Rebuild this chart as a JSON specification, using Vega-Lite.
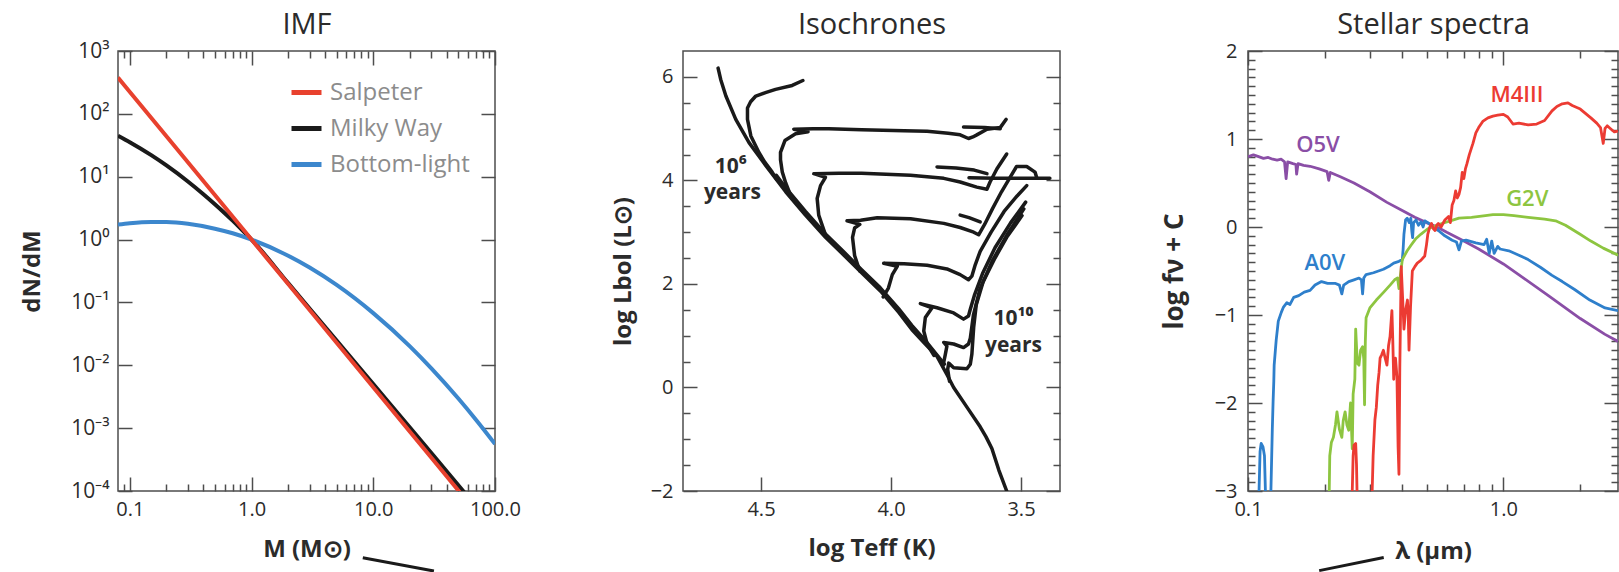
{
"$schema": "https://vega.github.io/schema/vega-lite/v6.json",
"background": "white",
"padding": {"left": 19, "top": 9, "right": 0, "bottom": 0},
"bounds": "flush",
"spacing": 188,
"config": {
 "font": "Open Sans",
 "view": {"stroke": "#4d4d4d", "strokeWidth": 1.5},
 "axis": {"domain": false, "grid": false, "labelFont": "Open Sans", "labelFontSize": 20, "labelColor": "#2b2b2b", "titleFont": "Open Sans", "titleFontSize": 24, "titleFontWeight": "bold", "titleColor": "#2b2b2b", "tickColor": "#4d4d4d", "tickWidth": 1.5, "labelFlush": false, "labelOverlap": false}
},
"datasets": {
 "imf": [
  {"s":"Milky Way","m":0.08,"n":44.8,"i":0},{"s":"Milky Way","m":0.1,"n":35.4,"i":1},{"s":"Milky Way","m":0.15,"n":22.0,"i":2},{"s":"Milky Way","m":0.2,"n":15.1,"i":3},{"s":"Milky Way","m":0.3,"n":8.4,"i":4},{"s":"Milky Way","m":0.4,"n":5.32,"i":5},{"s":"Milky Way","m":0.5,"n":3.65,"i":6},{"s":"Milky Way","m":0.6,"n":2.65,"i":7},{"s":"Milky Way","m":0.7,"n":2.0,"i":8},{"s":"Milky Way","m":0.8,"n":1.55,"i":9},{"s":"Milky Way","m":0.9,"n":1.23,"i":10},{"s":"Milky Way","m":1,"n":1,"i":11},{"s":"Milky Way","m":2,"n":0.203,"i":12},{"s":"Milky Way","m":5,"n":0.0247,"i":13},{"s":"Milky Way","m":10,"n":0.00501,"i":14},{"s":"Milky Way","m":20,"n":0.00102,"i":15},{"s":"Milky Way","m":50,"n":0.000123,"i":16},{"s":"Milky Way","m":70,"n":0.0000567,"i":17},
  {"s":"Bottom-light","m":0.08,"n":1.73,"i":20},{"s":"Bottom-light","m":0.1,"n":1.82,"i":21},{"s":"Bottom-light","m":0.15,"n":1.91,"i":22},{"s":"Bottom-light","m":0.2,"n":1.9,"i":23},{"s":"Bottom-light","m":0.3,"n":1.78,"i":24},{"s":"Bottom-light","m":0.5,"n":1.49,"i":25},{"s":"Bottom-light","m":0.7,"n":1.26,"i":26},{"s":"Bottom-light","m":1,"n":1,"i":27},{"s":"Bottom-light","m":2,"n":0.554,"i":28},{"s":"Bottom-light","m":3,"n":0.359,"i":29},{"s":"Bottom-light","m":5,"n":0.19,"i":30},{"s":"Bottom-light","m":10,"n":0.0676,"i":31},{"s":"Bottom-light","m":20,"n":0.02,"i":32},{"s":"Bottom-light","m":30,"n":0.00893,"i":33},{"s":"Bottom-light","m":50,"n":0.00296,"i":34},{"s":"Bottom-light","m":70,"n":0.00135,"i":35},{"s":"Bottom-light","m":100,"n":0.00056,"i":36},
  {"s":"Salpeter","m":0.08,"n":378,"i":40},{"s":"Salpeter","m":0.2,"n":43.9,"i":41},{"s":"Salpeter","m":0.5,"n":5.1,"i":42},{"s":"Salpeter","m":1,"n":1,"i":43},{"s":"Salpeter","m":2,"n":0.196,"i":44},{"s":"Salpeter","m":5,"n":0.0228,"i":45},{"s":"Salpeter","m":10,"n":0.00447,"i":46},{"s":"Salpeter","m":20,"n":0.000876,"i":47},{"s":"Salpeter","m":50,"n":0.000102,"i":48},{"s":"Salpeter","m":70,"n":0.0000462,"i":49}
 ],
 "imfCallout": [{"m": 8.2, "n": 0.0000087, "m2": 31.5, "n2": 0.00000535}],
 "specCallout": [{"w": 0.34, "f": -3.755, "w2": 0.19, "f2": -3.905}],
 "iso": [
  {"k":"ms","t":3.555,"l":-2.0,"i":0},{"k":"ms","t":3.585,"l":-1.6,"i":1},{"k":"ms","t":3.612,"l":-1.18,"i":2},{"k":"ms","t":3.635,"l":-0.95,"i":3},{"k":"ms","t":3.657,"l":-0.76,"i":4},{"k":"ms","t":3.708,"l":-0.38,"i":5},{"k":"ms","t":3.759,"l":0.0,"i":6},{"k":"ms","t":3.785,"l":0.25,"i":7},{"k":"ms","t":3.823,"l":0.6,"i":8},{"k":"ms","t":3.87,"l":0.85,"i":9},{"k":"ms","t":3.92,"l":1.12,"i":10},{"k":"ms","t":3.97,"l":1.45,"i":11},{"k":"ms","t":4.04,"l":1.86,"i":12},{"k":"ms","t":4.11,"l":2.2,"i":13},{"k":"ms","t":4.18,"l":2.55,"i":14},{"k":"ms","t":4.252,"l":2.9,"i":15},{"k":"ms","t":4.329,"l":3.33,"i":16},{"k":"ms","t":4.405,"l":3.78,"i":17},{"k":"ms","t":4.482,"l":4.29,"i":18},{"k":"ms","t":4.546,"l":4.73,"i":19},{"k":"ms","t":4.597,"l":5.18,"i":20},{"k":"ms","t":4.635,"l":5.63,"i":21},{"k":"ms","t":4.655,"l":5.95,"i":22},{"k":"ms","t":4.665,"l":6.17,"i":23},
  {"k":"ms2","t":3.795,"l":0.45,"i":24},{"k":"ms2","t":3.867,"l":0.9,"i":25},{"k":"ms2","t":3.92,"l":1.2,"i":26},{"k":"ms2","t":3.97,"l":1.52,"i":27},{"k":"ms2","t":4.042,"l":1.93,"i":28},{"k":"ms2","t":4.114,"l":2.28,"i":29},{"k":"ms2","t":4.182,"l":2.62,"i":30},{"k":"ms2","t":4.253,"l":2.97,"i":31},{"k":"ms2","t":4.329,"l":3.4,"i":32},{"k":"ms2","t":4.399,"l":3.82,"i":33},{"k":"ms2","t":4.441,"l":4.1,"i":34},
  {"k":"B","t":4.44,"l":4.02,"i":35},{"k":"B","t":4.457,"l":4.16,"i":36},{"k":"B","t":4.485,"l":4.35,"i":37},{"k":"B","t":4.508,"l":4.54,"i":38},{"k":"B","t":4.539,"l":4.86,"i":39},{"k":"B","t":4.552,"l":5.18,"i":40},{"k":"B","t":4.552,"l":5.4,"i":41},{"k":"B","t":4.54,"l":5.52,"i":42},{"k":"B","t":4.52,"l":5.63,"i":43},{"k":"B","t":4.48,"l":5.7,"i":44},{"k":"B","t":4.444,"l":5.758,"i":45},{"k":"B","t":4.38,"l":5.835,"i":46},{"k":"B","t":4.339,"l":5.93,"i":47},
  {"k":"C","t":4.33,"l":3.36,"i":48},{"k":"C","t":4.36,"l":3.55,"i":49},{"k":"C","t":4.386,"l":3.71,"i":50},{"k":"C","t":4.405,"l":3.95,"i":51},{"k":"C","t":4.418,"l":4.16,"i":52},{"k":"C","t":4.425,"l":4.4,"i":53},{"k":"C","t":4.425,"l":4.54,"i":54},{"k":"C","t":4.408,"l":4.77,"i":55},{"k":"C","t":4.367,"l":4.9,"i":56},{"k":"C","t":4.319,"l":4.94,"i":57},{"k":"C","t":4.374,"l":4.99,"i":58},{"k":"C","t":4.3,"l":5.0,"i":59},{"k":"C","t":4.239,"l":5.0,"i":60},{"k":"C","t":4.113,"l":4.98,"i":61},{"k":"C","t":3.95,"l":4.96,"i":62},{"k":"C","t":3.861,"l":4.95,"i":63},{"k":"C","t":3.78,"l":4.91,"i":64},{"k":"C","t":3.734,"l":4.88,"i":65},{"k":"C","t":3.702,"l":4.81,"i":66},{"k":"C","t":3.685,"l":4.84,"i":67},{"k":"C","t":3.67,"l":4.88,"i":68},{"k":"C","t":3.631,"l":4.99,"i":69},{"k":"C","t":3.58,"l":5.02,"i":70},{"k":"C","t":3.557,"l":5.18,"i":71},
  {"k":"C2","t":3.721,"l":5.03,"i":72},{"k":"C2","t":3.64,"l":5.02,"i":73},{"k":"C2","t":3.58,"l":5.0,"i":74},
  {"k":"D","t":4.252,"l":2.95,"i":75},{"k":"D","t":4.278,"l":3.33,"i":76},{"k":"D","t":4.284,"l":3.65,"i":77},{"k":"D","t":4.271,"l":3.9,"i":78},{"k":"D","t":4.252,"l":4.06,"i":79},{"k":"D","t":4.297,"l":4.13,"i":80},{"k":"D","t":4.2,"l":4.14,"i":81},{"k":"D","t":4.113,"l":4.14,"i":82},{"k":"D","t":3.925,"l":4.1,"i":83},{"k":"D","t":3.797,"l":4.04,"i":84},{"k":"D","t":3.734,"l":3.97,"i":85},{"k":"D","t":3.67,"l":3.87,"i":86},{"k":"D","t":3.631,"l":3.83,"i":87},{"k":"D","t":3.619,"l":3.97,"i":88},{"k":"D","t":3.593,"l":4.22,"i":89},{"k":"D","t":3.555,"l":4.51,"i":90},
  {"k":"D2","t":3.823,"l":4.26,"i":91},{"k":"D2","t":3.75,"l":4.24,"i":92},{"k":"D2","t":3.68,"l":4.2,"i":93},{"k":"D2","t":3.631,"l":4.13,"i":94},
  {"k":"D3","t":3.7,"l":4.05,"i":95},{"k":"D3","t":3.6,"l":4.04,"i":96},{"k":"D3","t":3.5,"l":4.04,"i":97},{"k":"D3","t":3.389,"l":4.04,"i":98},
  {"k":"E","t":4.12,"l":2.25,"i":99},{"k":"E","t":4.14,"l":2.55,"i":100},{"k":"E","t":4.148,"l":2.9,"i":101},{"k":"E","t":4.14,"l":3.08,"i":102},{"k":"E","t":4.12,"l":3.15,"i":103},{"k":"E","t":4.169,"l":3.22,"i":104},{"k":"E","t":4.117,"l":3.23,"i":105},{"k":"E","t":4.053,"l":3.28,"i":106},{"k":"E","t":3.925,"l":3.26,"i":107},{"k":"E","t":3.797,"l":3.17,"i":108},{"k":"E","t":3.734,"l":3.09,"i":109},{"k":"E","t":3.682,"l":3.0,"i":110},{"k":"E","t":3.663,"l":2.95,"i":111},{"k":"E","t":3.64,"l":3.15,"i":112},{"k":"E","t":3.61,"l":3.45,"i":113},{"k":"E","t":3.575,"l":3.78,"i":114},{"k":"E","t":3.542,"l":4.06,"i":115},{"k":"E","t":3.517,"l":4.27,"i":116},{"k":"E","t":3.478,"l":4.27,"i":117},{"k":"E","t":3.446,"l":4.16,"i":118},{"k":"E","t":3.44,"l":4.06,"i":119},
  {"k":"E2","t":3.734,"l":3.33,"i":120},{"k":"E2","t":3.7,"l":3.28,"i":121},{"k":"E2","t":3.657,"l":3.2,"i":122},
  {"k":"F","t":4.03,"l":1.75,"i":123},{"k":"F","t":4.01,"l":1.92,"i":124},{"k":"F","t":3.995,"l":2.18,"i":125},{"k":"F","t":3.976,"l":2.34,"i":126},{"k":"F","t":4.028,"l":2.4,"i":127},{"k":"F","t":3.95,"l":2.39,"i":128},{"k":"F","t":3.861,"l":2.36,"i":129},{"k":"F","t":3.785,"l":2.29,"i":130},{"k":"F","t":3.734,"l":2.18,"i":131},{"k":"F","t":3.702,"l":2.08,"i":132},{"k":"F","t":3.689,"l":2.15,"i":133},{"k":"F","t":3.676,"l":2.37,"i":134},{"k":"F","t":3.657,"l":2.63,"i":135},{"k":"F","t":3.615,"l":3.0,"i":136},{"k":"F","t":3.565,"l":3.4,"i":137},{"k":"F","t":3.515,"l":3.7,"i":138},{"k":"F","t":3.478,"l":3.9,"i":139},
  {"k":"G","t":3.835,"l":0.62,"i":140},{"k":"G","t":3.861,"l":0.84,"i":141},{"k":"G","t":3.874,"l":1.09,"i":142},{"k":"G","t":3.868,"l":1.35,"i":143},{"k":"G","t":3.842,"l":1.54,"i":144},{"k":"G","t":3.887,"l":1.62,"i":145},{"k":"G","t":3.823,"l":1.54,"i":146},{"k":"G","t":3.759,"l":1.44,"i":147},{"k":"G","t":3.721,"l":1.32,"i":148},{"k":"G","t":3.702,"l":1.38,"i":149},{"k":"G","t":3.695,"l":1.51,"i":150},{"k":"G","t":3.678,"l":1.8,"i":151},{"k":"G","t":3.648,"l":2.2,"i":152},{"k":"G","t":3.6,"l":2.7,"i":153},{"k":"G","t":3.54,"l":3.18,"i":154},{"k":"G","t":3.482,"l":3.58,"i":155},
  {"k":"H1","t":3.8,"l":0.42,"i":156},{"k":"H1","t":3.791,"l":0.64,"i":157},{"k":"H1","t":3.785,"l":0.8,"i":158},{"k":"H1","t":3.797,"l":0.87,"i":159},{"k":"H1","t":3.759,"l":0.84,"i":160},{"k":"H1","t":3.721,"l":0.77,"i":161},{"k":"H1","t":3.702,"l":0.84,"i":162},{"k":"H1","t":3.695,"l":0.95,"i":163},{"k":"H1","t":3.683,"l":1.4,"i":164},{"k":"H1","t":3.658,"l":1.9,"i":165},{"k":"H1","t":3.61,"l":2.45,"i":166},{"k":"H1","t":3.55,"l":2.98,"i":167},{"k":"H1","t":3.489,"l":3.45,"i":168},
  {"k":"H2","t":3.775,"l":0.12,"i":169},{"k":"H2","t":3.782,"l":0.35,"i":170},{"k":"H2","t":3.778,"l":0.47,"i":171},{"k":"H2","t":3.759,"l":0.38,"i":172},{"k":"H2","t":3.708,"l":0.36,"i":173},{"k":"H2","t":3.695,"l":0.45,"i":174},{"k":"H2","t":3.689,"l":0.64,"i":175},{"k":"H2","t":3.682,"l":1.16,"i":176},{"k":"H2","t":3.672,"l":1.6,"i":177},{"k":"H2","t":3.645,"l":2.05,"i":178},{"k":"H2","t":3.6,"l":2.5,"i":179},{"k":"H2","t":3.555,"l":2.9,"i":180},{"k":"H2","t":3.52,"l":3.15,"i":181},{"k":"H2","t":3.496,"l":3.32,"i":182}
 ],
 "isoLab": [
  {"t":4.616,"l":4.26,"txt":"10⁶"},{"t":4.61,"l":3.75,"txt":"years"},{"t":3.529,"l":1.32,"txt":"10¹⁰"},{"t":3.529,"l":0.8,"txt":"years"}
 ],
 "spec": [
  {"k":"O5V","w":0.1,"f":0.8,"i":0},{"k":"O5V","w":0.105,"f":0.82,"i":1},{"k":"O5V","w":0.11,"f":0.8,"i":2},{"k":"O5V","w":0.115,"f":0.78,"i":3},{"k":"O5V","w":0.12,"f":0.79,"i":4},{"k":"O5V","w":0.125,"f":0.77,"i":5},{"k":"O5V","w":0.13,"f":0.76,"i":6},{"k":"O5V","w":0.135,"f":0.77,"i":7},{"k":"O5V","w":0.139,"f":0.74,"i":8},{"k":"O5V","w":0.141,"f":0.55,"i":9},{"k":"O5V","w":0.143,"f":0.74,"i":10},{"k":"O5V","w":0.15,"f":0.72,"i":11},{"k":"O5V","w":0.154,"f":0.71,"i":12},{"k":"O5V","w":0.155,"f":0.6,"i":13},{"k":"O5V","w":0.157,"f":0.72,"i":14},{"k":"O5V","w":0.165,"f":0.7,"i":15},{"k":"O5V","w":0.175,"f":0.69,"i":16},{"k":"O5V","w":0.19,"f":0.66,"i":17},{"k":"O5V","w":0.204,"f":0.63,"i":18},{"k":"O5V","w":0.207,"f":0.53,"i":19},{"k":"O5V","w":0.21,"f":0.62,"i":20},{"k":"O5V","w":0.23,"f":0.57,"i":21},{"k":"O5V","w":0.26,"f":0.5,"i":22},{"k":"O5V","w":0.3,"f":0.4,"i":23},{"k":"O5V","w":0.35,"f":0.28,"i":24},{"k":"O5V","w":0.4,"f":0.19,"i":25},{"k":"O5V","w":0.45,"f":0.11,"i":26},{"k":"O5V","w":0.5,"f":0.05,"i":27},{"k":"O5V","w":0.55,"f":0.0,"i":28},{"k":"O5V","w":0.6,"f":-0.06,"i":29},{"k":"O5V","w":0.7,"f":-0.16,"i":30},{"k":"O5V","w":0.8,"f":-0.25,"i":31},{"k":"O5V","w":1.0,"f":-0.42,"i":32},{"k":"O5V","w":1.2,"f":-0.58,"i":33},{"k":"O5V","w":1.5,"f":-0.78,"i":34},{"k":"O5V","w":2.0,"f":-1.04,"i":35},{"k":"O5V","w":2.5,"f":-1.22,"i":36},{"k":"O5V","w":2.81,"f":-1.3,"i":37},
  {"k":"A0V","w":0.11,"f":-3.2,"i":100},{"k":"A0V","w":0.1115,"f":-2.55,"i":101},{"k":"A0V","w":0.1126,"f":-2.46,"i":102},{"k":"A0V","w":0.1145,"f":-2.5,"i":103},{"k":"A0V","w":0.116,"f":-2.6,"i":104},{"k":"A0V","w":0.1175,"f":-3.2,"i":105},{"k":"A0V","w":0.1225,"f":-3.2,"i":106},{"k":"A0V","w":0.1245,"f":-2.3,"i":107},{"k":"A0V","w":0.1254,"f":-1.98,"i":108},{"k":"A0V","w":0.1262,"f":-1.75,"i":109},{"k":"A0V","w":0.1266,"f":-1.57,"i":110},{"k":"A0V","w":0.128,"f":-1.4,"i":111},{"k":"A0V","w":0.129,"f":-1.28,"i":112},{"k":"A0V","w":0.1305,"f":-1.15,"i":113},{"k":"A0V","w":0.1314,"f":-1.07,"i":114},{"k":"A0V","w":0.135,"f":-0.97,"i":115},{"k":"A0V","w":0.1377,"f":-0.91,"i":116},{"k":"A0V","w":0.142,"f":-0.86,"i":117},{"k":"A0V","w":0.146,"f":-0.88,"i":118},{"k":"A0V","w":0.151,"f":-0.8,"i":119},{"k":"A0V","w":0.158,"f":-0.78,"i":120},{"k":"A0V","w":0.166,"f":-0.74,"i":121},{"k":"A0V","w":0.175,"f":-0.72,"i":122},{"k":"A0V","w":0.183,"f":-0.66,"i":123},{"k":"A0V","w":0.194,"f":-0.62,"i":124},{"k":"A0V","w":0.205,"f":-0.64,"i":125},{"k":"A0V","w":0.219,"f":-0.64,"i":126},{"k":"A0V","w":0.228,"f":-0.66,"i":127},{"k":"A0V","w":0.233,"f":-0.76,"i":128},{"k":"A0V","w":0.237,"f":-0.66,"i":129},{"k":"A0V","w":0.248,"f":-0.62,"i":130},{"k":"A0V","w":0.26,"f":-0.6,"i":131},{"k":"A0V","w":0.272,"f":-0.58,"i":132},{"k":"A0V","w":0.278,"f":-0.6,"i":133},{"k":"A0V","w":0.281,"f":-0.76,"i":134},{"k":"A0V","w":0.284,"f":-0.58,"i":135},{"k":"A0V","w":0.29,"f":-0.54,"i":136},{"k":"A0V","w":0.31,"f":-0.52,"i":137},{"k":"A0V","w":0.339,"f":-0.48,"i":138},{"k":"A0V","w":0.36,"f":-0.44,"i":139},{"k":"A0V","w":0.372,"f":-0.41,"i":140},{"k":"A0V","w":0.39,"f":-0.39,"i":141},{"k":"A0V","w":0.402,"f":-0.37,"i":142},{"k":"A0V","w":0.405,"f":-0.25,"i":143},{"k":"A0V","w":0.408,"f":-0.08,"i":144},{"k":"A0V","w":0.414,"f":0.08,"i":145},{"k":"A0V","w":0.42,"f":0.1,"i":146},{"k":"A0V","w":0.428,"f":0.05,"i":147},{"k":"A0V","w":0.434,"f":0.1,"i":148},{"k":"A0V","w":0.438,"f":-0.05,"i":149},{"k":"A0V","w":0.441,"f":-0.12,"i":150},{"k":"A0V","w":0.445,"f":0.05,"i":151},{"k":"A0V","w":0.455,"f":0.08,"i":152},{"k":"A0V","w":0.465,"f":0.02,"i":153},{"k":"A0V","w":0.476,"f":0.06,"i":154},{"k":"A0V","w":0.485,"f":0.0,"i":155},{"k":"A0V","w":0.492,"f":0.07,"i":156},{"k":"A0V","w":0.506,"f":0.05,"i":157},{"k":"A0V","w":0.53,"f":0.0,"i":158},{"k":"A0V","w":0.556,"f":-0.04,"i":159},{"k":"A0V","w":0.59,"f":-0.1,"i":160},{"k":"A0V","w":0.63,"f":-0.15,"i":161},{"k":"A0V","w":0.655,"f":-0.17,"i":162},{"k":"A0V","w":0.67,"f":-0.26,"i":163},{"k":"A0V","w":0.685,"f":-0.16,"i":164},{"k":"A0V","w":0.714,"f":-0.15,"i":165},{"k":"A0V","w":0.78,"f":-0.18,"i":166},{"k":"A0V","w":0.84,"f":-0.2,"i":167},{"k":"A0V","w":0.86,"f":-0.14,"i":168},{"k":"A0V","w":0.88,"f":-0.3,"i":169},{"k":"A0V","w":0.9,"f":-0.16,"i":170},{"k":"A0V","w":0.92,"f":-0.3,"i":171},{"k":"A0V","w":0.95,"f":-0.22,"i":172},{"k":"A0V","w":0.97,"f":-0.25,"i":173},{"k":"A0V","w":1.05,"f":-0.27,"i":174},{"k":"A0V","w":1.15,"f":-0.32,"i":175},{"k":"A0V","w":1.25,"f":-0.37,"i":176},{"k":"A0V","w":1.4,"f":-0.46,"i":177},{"k":"A0V","w":1.55,"f":-0.55,"i":178},{"k":"A0V","w":1.7,"f":-0.62,"i":179},{"k":"A0V","w":1.9,"f":-0.71,"i":180},{"k":"A0V","w":2.18,"f":-0.83,"i":181},{"k":"A0V","w":2.5,"f":-0.92,"i":182},{"k":"A0V","w":2.81,"f":-0.95,"i":183},
  {"k":"G2V","w":0.2075,"f":-3.2,"i":200},{"k":"G2V","w":0.209,"f":-2.6,"i":201},{"k":"G2V","w":0.212,"f":-2.45,"i":202},{"k":"G2V","w":0.216,"f":-2.39,"i":203},{"k":"G2V","w":0.22,"f":-2.25,"i":204},{"k":"G2V","w":0.223,"f":-2.1,"i":205},{"k":"G2V","w":0.228,"f":-2.3,"i":206},{"k":"G2V","w":0.233,"f":-2.39,"i":207},{"k":"G2V","w":0.236,"f":-2.2,"i":208},{"k":"G2V","w":0.24,"f":-2.1,"i":209},{"k":"G2V","w":0.244,"f":-2.25,"i":210},{"k":"G2V","w":0.248,"f":-2.31,"i":211},{"k":"G2V","w":0.252,"f":-2.0,"i":212},{"k":"G2V","w":0.256,"f":-2.52,"i":213},{"k":"G2V","w":0.258,"f":-1.9,"i":214},{"k":"G2V","w":0.262,"f":-1.73,"i":215},{"k":"G2V","w":0.264,"f":-1.16,"i":216},{"k":"G2V","w":0.268,"f":-1.55,"i":217},{"k":"G2V","w":0.272,"f":-1.57,"i":218},{"k":"G2V","w":0.276,"f":-1.4,"i":219},{"k":"G2V","w":0.281,"f":-1.36,"i":220},{"k":"G2V","w":0.284,"f":-1.5,"i":221},{"k":"G2V","w":0.286,"f":-2.02,"i":222},{"k":"G2V","w":0.288,"f":-1.3,"i":223},{"k":"G2V","w":0.29,"f":-1.03,"i":224},{"k":"G2V","w":0.3,"f":-0.92,"i":225},{"k":"G2V","w":0.318,"f":-0.83,"i":226},{"k":"G2V","w":0.34,"f":-0.74,"i":227},{"k":"G2V","w":0.36,"f":-0.66,"i":228},{"k":"G2V","w":0.375,"f":-0.6,"i":229},{"k":"G2V","w":0.385,"f":-0.58,"i":230},{"k":"G2V","w":0.39,"f":-0.7,"i":231},{"k":"G2V","w":0.395,"f":-0.55,"i":232},{"k":"G2V","w":0.402,"f":-0.37,"i":233},{"k":"G2V","w":0.42,"f":-0.27,"i":234},{"k":"G2V","w":0.434,"f":-0.21,"i":235},{"k":"G2V","w":0.455,"f":-0.13,"i":236},{"k":"G2V","w":0.476,"f":-0.08,"i":237},{"k":"G2V","w":0.506,"f":-0.02,"i":238},{"k":"G2V","w":0.54,"f":0.01,"i":239},{"k":"G2V","w":0.574,"f":0.04,"i":240},{"k":"G2V","w":0.62,"f":0.07,"i":241},{"k":"G2V","w":0.67,"f":0.1,"i":242},{"k":"G2V","w":0.75,"f":0.11,"i":243},{"k":"G2V","w":0.85,"f":0.13,"i":244},{"k":"G2V","w":0.91,"f":0.14,"i":245},{"k":"G2V","w":1.0,"f":0.14,"i":246},{"k":"G2V","w":1.1,"f":0.13,"i":247},{"k":"G2V","w":1.25,"f":0.11,"i":248},{"k":"G2V","w":1.45,"f":0.09,"i":249},{"k":"G2V","w":1.6,"f":0.07,"i":250},{"k":"G2V","w":1.75,"f":0.02,"i":251},{"k":"G2V","w":1.99,"f":-0.08,"i":252},{"k":"G2V","w":2.2,"f":-0.16,"i":253},{"k":"G2V","w":2.46,"f":-0.24,"i":254},{"k":"G2V","w":2.81,"f":-0.32,"i":255},
  {"k":"M4III","w":0.255,"f":-3.2,"i":300},{"k":"M4III","w":0.258,"f":-2.6,"i":301},{"k":"M4III","w":0.26,"f":-2.48,"i":302},{"k":"M4III","w":0.264,"f":-2.46,"i":303},{"k":"M4III","w":0.266,"f":-2.7,"i":304},{"k":"M4III","w":0.268,"f":-3.2,"i":305},{"k":"M4III","w":0.305,"f":-3.2,"i":306},{"k":"M4III","w":0.309,"f":-2.6,"i":307},{"k":"M4III","w":0.314,"f":-2.19,"i":308},{"k":"M4III","w":0.318,"f":-2.05,"i":309},{"k":"M4III","w":0.322,"f":-1.8,"i":310},{"k":"M4III","w":0.326,"f":-1.65,"i":311},{"k":"M4III","w":0.329,"f":-1.49,"i":312},{"k":"M4III","w":0.334,"f":-1.45,"i":313},{"k":"M4III","w":0.339,"f":-1.4,"i":314},{"k":"M4III","w":0.345,"f":-1.5,"i":315},{"k":"M4III","w":0.35,"f":-1.57,"i":316},{"k":"M4III","w":0.355,"f":-1.35,"i":317},{"k":"M4III","w":0.36,"f":-1.24,"i":318},{"k":"M4III","w":0.366,"f":-0.95,"i":319},{"k":"M4III","w":0.369,"f":-1.3,"i":320},{"k":"M4III","w":0.372,"f":-1.73,"i":321},{"k":"M4III","w":0.375,"f":-1.55,"i":322},{"k":"M4III","w":0.378,"f":-1.49,"i":323},{"k":"M4III","w":0.383,"f":-1.7,"i":324},{"k":"M4III","w":0.387,"f":-2.5,"i":325},{"k":"M4III","w":0.39,"f":-2.81,"i":326},{"k":"M4III","w":0.393,"f":-1.6,"i":327},{"k":"M4III","w":0.398,"f":-0.45,"i":328},{"k":"M4III","w":0.403,"f":-0.8,"i":329},{"k":"M4III","w":0.408,"f":-1.16,"i":330},{"k":"M4III","w":0.414,"f":-0.95,"i":331},{"k":"M4III","w":0.421,"f":-0.83,"i":332},{"k":"M4III","w":0.424,"f":-1.0,"i":333},{"k":"M4III","w":0.427,"f":-1.4,"i":334},{"k":"M4III","w":0.433,"f":-0.9,"i":335},{"k":"M4III","w":0.44,"f":-0.5,"i":336},{"k":"M4III","w":0.45,"f":-0.45,"i":337},{"k":"M4III","w":0.46,"f":-0.41,"i":338},{"k":"M4III","w":0.475,"f":-0.38,"i":339},{"k":"M4III","w":0.492,"f":-0.33,"i":340},{"k":"M4III","w":0.5,"f":-0.2,"i":341},{"k":"M4III","w":0.506,"f":-0.08,"i":342},{"k":"M4III","w":0.515,"f":0.0,"i":343},{"k":"M4III","w":0.523,"f":0.04,"i":344},{"k":"M4III","w":0.532,"f":-0.02,"i":345},{"k":"M4III","w":0.54,"f":-0.04,"i":346},{"k":"M4III","w":0.548,"f":0.02,"i":347},{"k":"M4III","w":0.556,"f":0.04,"i":348},{"k":"M4III","w":0.57,"f":0.0,"i":349},{"k":"M4III","w":0.59,"f":0.08,"i":350},{"k":"M4III","w":0.61,"f":0.12,"i":351},{"k":"M4III","w":0.62,"f":0.05,"i":352},{"k":"M4III","w":0.63,"f":0.25,"i":353},{"k":"M4III","w":0.64,"f":0.3,"i":354},{"k":"M4III","w":0.65,"f":0.41,"i":355},{"k":"M4III","w":0.66,"f":0.33,"i":356},{"k":"M4III","w":0.67,"f":0.37,"i":357},{"k":"M4III","w":0.68,"f":0.45,"i":358},{"k":"M4III","w":0.69,"f":0.62,"i":359},{"k":"M4III","w":0.7,"f":0.55,"i":360},{"k":"M4III","w":0.71,"f":0.66,"i":361},{"k":"M4III","w":0.72,"f":0.72,"i":362},{"k":"M4III","w":0.735,"f":0.82,"i":363},{"k":"M4III","w":0.75,"f":0.9,"i":364},{"k":"M4III","w":0.76,"f":0.95,"i":365},{"k":"M4III","w":0.78,"f":1.07,"i":366},{"k":"M4III","w":0.8,"f":1.13,"i":367},{"k":"M4III","w":0.83,"f":1.2,"i":368},{"k":"M4III","w":0.87,"f":1.24,"i":369},{"k":"M4III","w":0.91,"f":1.26,"i":370},{"k":"M4III","w":0.95,"f":1.27,"i":371},{"k":"M4III","w":1.0,"f":1.28,"i":372},{"k":"M4III","w":1.04,"f":1.25,"i":373},{"k":"M4III","w":1.09,"f":1.17,"i":374},{"k":"M4III","w":1.15,"f":1.18,"i":375},{"k":"M4III","w":1.25,"f":1.16,"i":376},{"k":"M4III","w":1.35,"f":1.17,"i":377},{"k":"M4III","w":1.45,"f":1.21,"i":378},{"k":"M4III","w":1.55,"f":1.32,"i":379},{"k":"M4III","w":1.62,"f":1.37,"i":380},{"k":"M4III","w":1.7,"f":1.4,"i":381},{"k":"M4III","w":1.79,"f":1.41,"i":382},{"k":"M4III","w":1.86,"f":1.38,"i":383},{"k":"M4III","w":2.0,"f":1.34,"i":384},{"k":"M4III","w":2.2,"f":1.24,"i":385},{"k":"M4III","w":2.32,"f":1.18,"i":386},{"k":"M4III","w":2.4,"f":1.13,"i":387},{"k":"M4III","w":2.46,"f":0.95,"i":388},{"k":"M4III","w":2.5,"f":1.12,"i":389},{"k":"M4III","w":2.55,"f":1.15,"i":390},{"k":"M4III","w":2.62,"f":1.12,"i":391},{"k":"M4III","w":2.72,"f":1.08,"i":392},{"k":"M4III","w":2.81,"f":1.09,"i":393}
 ],
 "specLab": [
  {"k":"O5V","w":0.188,"f":0.93},{"k":"A0V","w":0.2,"f":-0.41},{"k":"G2V","w":1.24,"f":0.32},{"k":"M4III","w":1.13,"f":1.5}
 ]
},
"resolve": {"scale": {"color": "independent"}},
"hconcat": [
 {
  "width": 377, "height": 440,
  "resolve": {"axis": {"x": "independent", "y": "independent"}},
  "layer": [
   {
    "data": {"name": "imf"},
    "mark": {"type": "line", "strokeWidth": 4, "clip": true, "interpolate": "monotone"},
    "encoding": {
     "x": {"field": "m", "type": "quantitative", "scale": {"type": "log", "domain": [0.08, 100], "nice": false},
      "axis": {"orient": "bottom", "values": [0.1, 1, 10, 100], "ticks": false, "labelPadding": 8, "labelExpr": "datum.value < 0.5 ? '0.1' : datum.value < 5 ? '1.0' : datum.value < 50 ? '10.0' : '100.0'", "title": "M (M⊙)", "titleY": 58, "titleBaseline": "middle"}},
     "y": {"field": "n", "type": "quantitative", "scale": {"type": "log", "domain": [0.0001, 1000], "nice": false},
      "axis": {"orient": "left", "values": [0.0001, 0.001, 0.01, 0.1, 1, 10, 100, 1000], "ticks": false, "labelPadding": 9, "labelFontSize": 21, "labelExpr": "datum.value > 500 ? '10³' : datum.value > 50 ? '10²' : datum.value > 5 ? '10¹' : datum.value > 0.5 ? '10⁰' : datum.value > 0.05 ? '10⁻¹' : datum.value > 0.005 ? '10⁻²' : datum.value > 0.0005 ? '10⁻³' : '10⁻⁴'", "title": "dN/dM", "titleX": -86, "titleBaseline": "middle"}},
     "color": {"field": "s", "type": "nominal", "scale": {"domain": ["Salpeter", "Milky Way", "Bottom-light"], "range": ["#e8412e", "#1a1a1a", "#3c87cd"]},
      "legend": {"orient": "none", "legendX": 171, "legendY": 24, "title": null, "symbolType": "stroke", "symbolStrokeWidth": 5, "symbolSize": 900, "labelFontSize": 24, "labelFont": "Open Sans", "labelColor": "#8c8c8c", "labelOffset": 6, "rowPadding": 6, "padding": 0}},
     "order": {"field": "i", "type": "quantitative"}
    }
   },
   {
    "data": {"name": "imfCallout"},
    "mark": {"type": "rule", "strokeWidth": 3, "color": "#1a1a1a"},
    "encoding": {
     "x": {"field": "m", "type": "quantitative", "axis": null},
     "x2": {"field": "m2"},
     "y": {"field": "n", "type": "quantitative", "axis": null},
     "y2": {"field": "n2"}
    }
   },
   {
    "data": {"values": []},
    "mark": {"type": "point", "opacity": 0},
    "encoding": {
     "x": {"field": "m", "type": "quantitative", "axis": {"orient": "bottom", "values": [0.1, 1, 10, 100], "labels": false, "tickSize": 14, "offset": -14, "title": null}},
     "y": {"field": "n", "type": "quantitative", "axis": {"orient": "left", "values": [0.0001, 0.001, 0.01, 0.1, 1, 10, 100, 1000], "labels": false, "tickSize": 14, "offset": -14, "title": null}}
    }
   },
   {
    "data": {"values": []},
    "mark": {"type": "point", "opacity": 0},
    "encoding": {
     "x": {"field": "m", "type": "quantitative", "axis": {"orient": "bottom", "values": [0.09, 0.2, 0.3, 0.4, 0.5, 0.6, 0.7, 0.8, 0.9, 2, 3, 4, 5, 6, 7, 8, 9, 20, 30, 40, 50, 60, 70, 80, 90], "labels": false, "tickSize": 7, "offset": -7, "title": null}},
     "y": {"field": "n", "type": "quantitative", "axis": {"orient": "right", "values": [0.0001, 0.001, 0.01, 0.1, 1, 10, 100, 1000], "labels": false, "tickSize": 14, "offset": -14, "title": null}}
    }
   },
   {
    "data": {"values": []},
    "mark": {"type": "point", "opacity": 0},
    "encoding": {
     "x": {"field": "m", "type": "quantitative", "axis": {"orient": "top", "values": [0.1, 1, 10, 100], "labels": false, "tickSize": 14, "offset": -14, "title": "IMF", "titleY": -32, "titleBaseline": "alphabetic", "titleFontSize": 29, "titleFontWeight": "normal"}},
     "y": {"field": "n", "type": "quantitative", "axis": null}
    }
   },
   {
    "data": {"values": []},
    "mark": {"type": "point", "opacity": 0},
    "encoding": {
     "x": {"field": "m", "type": "quantitative", "axis": {"orient": "top", "values": [0.09, 0.2, 0.3, 0.4, 0.5, 0.6, 0.7, 0.8, 0.9, 2, 3, 4, 5, 6, 7, 8, 9, 20, 30, 40, 50, 60, 70, 80, 90], "labels": false, "tickSize": 7, "offset": -7, "title": null}},
     "y": {"field": "n", "type": "quantitative", "axis": null}
    }
   }
  ]
 },
 {
  "width": 377, "height": 440,
  "resolve": {"axis": {"x": "independent", "y": "independent"}},
  "layer": [
   {
    "data": {"name": "iso"},
    "mark": {"type": "line", "strokeWidth": 3.5, "color": "#1a1a1a", "clip": true, "strokeJoin": "round", "strokeCap": "round"},
    "encoding": {
     "x": {"field": "t", "type": "quantitative", "scale": {"domain": [3.35, 4.8], "reverse": true, "nice": false, "zero": false},
      "axis": {"orient": "bottom", "values": [4.5, 4.0, 3.5], "format": ".1f", "ticks": false, "labelPadding": 8, "title": "log Teff (K)", "titleY": 57, "titleBaseline": "middle"}},
     "y": {"field": "l", "type": "quantitative", "scale": {"domain": [-2, 6.5], "nice": false, "zero": false},
      "axis": {"orient": "left", "values": [-2, 0, 2, 4, 6], "format": "d", "ticks": false, "labelPadding": 10, "title": "log Lbol (L⊙)", "titleX": -60, "titleBaseline": "middle"}},
     "detail": {"field": "k", "type": "nominal"},
     "order": {"field": "i", "type": "quantitative"}
    }
   },
   {
    "data": {"name": "isoLab"},
    "mark": {"type": "text", "fontSize": 21, "fontWeight": "bold", "color": "#2b2b2b", "font": "Open Sans", "align": "center", "baseline": "middle"},
    "encoding": {
     "x": {"field": "t", "type": "quantitative", "axis": {"orient": "top", "ticks": false, "labels": false, "title": "Isochrones", "titleY": -18, "titleBaseline": "alphabetic", "titleFontSize": 29, "titleFontWeight": "normal"}},
     "y": {"field": "l", "type": "quantitative", "axis": null},
     "text": {"field": "txt"}
    }
   },
   {
    "data": {"values": []},
    "mark": {"type": "point", "opacity": 0},
    "encoding": {
     "x": {"field": "t", "type": "quantitative", "axis": {"orient": "bottom", "values": [4.5, 4.0, 3.5], "labels": false, "tickSize": 14, "offset": -14, "title": null}},
     "y": {"field": "l", "type": "quantitative", "axis": {"orient": "left", "values": [-2, 0, 2, 4, 6], "labels": false, "tickSize": 14, "offset": -14, "title": null}}
    }
   },
   {
    "data": {"values": []},
    "mark": {"type": "point", "opacity": 0},
    "encoding": {
     "x": {"field": "t", "type": "quantitative", "axis": null},
     "y": {"field": "l", "type": "quantitative", "axis": {"orient": "left", "values": [-1.5, -1, -0.5, 0.5, 1, 1.5, 2.5, 3, 3.5, 4.5, 5, 5.5], "labels": false, "tickSize": 7, "offset": -7, "title": null}}
    }
   },
   {
    "data": {"values": []},
    "mark": {"type": "point", "opacity": 0},
    "encoding": {
     "x": {"field": "t", "type": "quantitative", "axis": null},
     "y": {"field": "l", "type": "quantitative", "axis": {"orient": "right", "values": [-2, 0, 2, 4, 6], "labels": false, "tickSize": 14, "offset": -14, "title": null}}
    }
   },
   {
    "data": {"values": []},
    "mark": {"type": "point", "opacity": 0},
    "encoding": {
     "x": {"field": "t", "type": "quantitative", "axis": null},
     "y": {"field": "l", "type": "quantitative", "axis": {"orient": "right", "values": [-1.5, -1, -0.5, 0.5, 1, 1.5, 2.5, 3, 3.5, 4.5, 5, 5.5], "labels": false, "tickSize": 7, "offset": -7, "title": null}}
    }
   }
  ]
 },
 {
  "width": 370, "height": 440,
  "resolve": {"axis": {"x": "independent", "y": "independent"}},
  "layer": [
   {
    "data": {"name": "spec"},
    "mark": {"type": "line", "strokeWidth": 2.8, "clip": true, "strokeJoin": "round"},
    "encoding": {
     "x": {"field": "w", "type": "quantitative", "scale": {"type": "log", "domain": [0.1, 2.81], "nice": false},
      "axis": {"orient": "bottom", "values": [0.1, 1], "ticks": false, "labelPadding": 8, "labelExpr": "datum.value < 0.5 ? '0.1' : '1.0'", "title": "λ (μm)", "titleY": 60, "titleBaseline": "middle"}},
     "y": {"field": "f", "type": "quantitative", "scale": {"domain": [-3, 2], "nice": false, "zero": false},
      "axis": {"orient": "left", "values": [-3, -2, -1, 0, 1, 2], "format": "d", "ticks": false, "labelPadding": 11, "title": "log fν + C", "titleX": -74, "titleBaseline": "middle", "titleFontSize": 26}},
     "color": {"field": "k", "type": "nominal", "scale": {"domain": ["O5V", "A0V", "G2V", "M4III"], "range": ["#8a4ea6", "#2e7fcb", "#8dc540", "#ec3b33"]}, "legend": null},
     "order": {"field": "i", "type": "quantitative"}
    }
   },
   {
    "data": {"name": "specLab"},
    "mark": {"type": "text", "fontSize": 22, "fontWeight": 600, "font": "Open Sans", "align": "center", "baseline": "middle"},
    "encoding": {
     "x": {"field": "w", "type": "quantitative", "axis": null},
     "y": {"field": "f", "type": "quantitative", "axis": null},
     "text": {"field": "k"},
     "color": {"field": "k", "type": "nominal", "legend": null}
    }
   },
   {
    "data": {"name": "specCallout"},
    "mark": {"type": "rule", "strokeWidth": 3, "color": "#1a1a1a"},
    "encoding": {
     "x": {"field": "w", "type": "quantitative", "axis": null},
     "x2": {"field": "w2"},
     "y": {"field": "f", "type": "quantitative", "axis": null},
     "y2": {"field": "f2"}
    }
   },
   {
    "data": {"values": []},
    "mark": {"type": "point", "opacity": 0},
    "encoding": {
     "x": {"field": "w", "type": "quantitative", "axis": {"orient": "bottom", "values": [0.1, 1], "labels": false, "tickSize": 14, "offset": -14, "title": null}},
     "y": {"field": "f", "type": "quantitative", "axis": {"orient": "left", "values": [-3, -2, -1, 0, 1, 2], "labels": false, "tickSize": 14, "offset": -14, "title": null}}
    }
   },
   {
    "data": {"values": []},
    "mark": {"type": "point", "opacity": 0},
    "encoding": {
     "x": {"field": "w", "type": "quantitative", "axis": {"orient": "bottom", "values": [0.2, 0.3, 0.4, 0.5, 0.6, 0.7, 0.8, 0.9, 2], "labels": false, "tickSize": 7, "offset": -7, "title": null}},
     "y": {"field": "f", "type": "quantitative", "axis": {"orient": "left", "values": [-2.9, -2.8, -2.7, -2.6, -2.5, -2.4, -2.3, -2.2, -2.1, -1.9, -1.8, -1.7, -1.6, -1.5, -1.4, -1.3, -1.2, -1.1, -0.9, -0.8, -0.7, -0.6, -0.5, -0.4, -0.3, -0.2, -0.1, 0.1, 0.2, 0.3, 0.4, 0.5, 0.6, 0.7, 0.8, 0.9, 1.1, 1.2, 1.3, 1.4, 1.5, 1.6, 1.7, 1.8, 1.9], "labels": false, "tickSize": 7, "offset": -7, "title": null}}
    }
   },
   {
    "data": {"values": []},
    "mark": {"type": "point", "opacity": 0},
    "encoding": {
     "x": {"field": "w", "type": "quantitative", "axis": {"orient": "top", "values": [0.1, 1], "labels": false, "tickSize": 14, "offset": -14, "title": "Stellar spectra", "titleY": -32, "titleBaseline": "alphabetic", "titleFontSize": 29, "titleFontWeight": "normal"}},
     "y": {"field": "f", "type": "quantitative", "axis": {"orient": "right", "values": [-3, -2, -1, 0, 1, 2], "labels": false, "tickSize": 14, "offset": -14, "title": null}}
    }
   },
   {
    "data": {"values": []},
    "mark": {"type": "point", "opacity": 0},
    "encoding": {
     "x": {"field": "w", "type": "quantitative", "axis": {"orient": "top", "values": [0.2, 0.3, 0.4, 0.5, 0.6, 0.7, 0.8, 0.9, 2], "labels": false, "tickSize": 7, "offset": -7, "title": null}},
     "y": {"field": "f", "type": "quantitative", "axis": {"orient": "right", "values": [-2.9, -2.8, -2.7, -2.6, -2.5, -2.4, -2.3, -2.2, -2.1, -1.9, -1.8, -1.7, -1.6, -1.5, -1.4, -1.3, -1.2, -1.1, -0.9, -0.8, -0.7, -0.6, -0.5, -0.4, -0.3, -0.2, -0.1, 0.1, 0.2, 0.3, 0.4, 0.5, 0.6, 0.7, 0.8, 0.9, 1.1, 1.2, 1.3, 1.4, 1.5, 1.6, 1.7, 1.8, 1.9], "labels": false, "tickSize": 7, "offset": -7, "title": null}}
    }
   }
  ]
 }
]
}
